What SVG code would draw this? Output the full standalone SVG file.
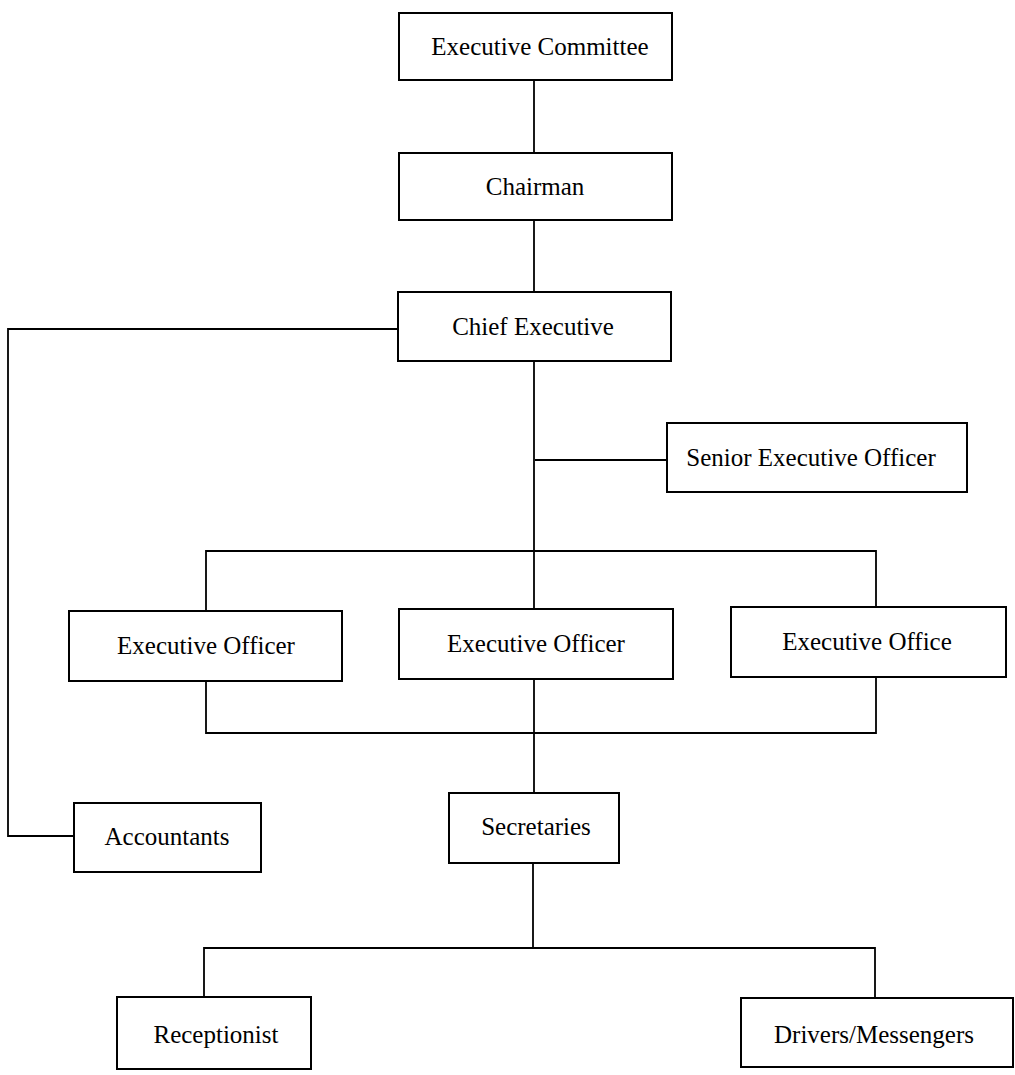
<svg xmlns="http://www.w3.org/2000/svg" width="1015" height="1075" viewBox="0 0 1015 1075">
<style>
rect.box{fill:#fff;stroke:#000;stroke-width:2}
text{font-family:"Liberation Serif","Times New Roman",serif;font-size:25px;fill:#000;text-anchor:middle}
#connectors path{fill:none;stroke:#000;stroke-width:1.8}
</style>
<rect width="1015" height="1075" fill="#fff"/>
<g id="connectors">
<path d="M534 80V153"/>
<path d="M534 220V292"/>
<path d="M534 361V609"/>
<path d="M535 460H667"/>
<path d="M206 611V551H876V607"/>
<path d="M206 681V733H876V677"/>
<path d="M534 679V793"/>
<path d="M398 329H8V836H74"/>
<path d="M533 863V948"/>
<path d="M204 997V948H875V998"/>
</g>
<g id="executive-committee"><rect class="box" x="399" y="13" width="273" height="67"/><text x="540" y="55">Executive Committee</text></g>
<g id="chairman"><rect class="box" x="399" y="153" width="273" height="67"/><text x="535" y="195">Chairman</text></g>
<g id="chief-executive"><rect class="box" x="398" y="292" width="273" height="69"/><text x="533" y="335">Chief Executive</text></g>
<g id="senior-executive-officer"><rect class="box" x="667" y="423" width="300" height="69"/><text x="811" y="466">Senior Executive Officer</text></g>
<g id="executive-officer-1"><rect class="box" x="69" y="611" width="273" height="70"/><text x="206" y="654">Executive Officer</text></g>
<g id="executive-officer-2"><rect class="box" x="399" y="609" width="274" height="70"/><text x="536" y="652">Executive Officer</text></g>
<g id="executive-office-3"><rect class="box" x="731" y="607" width="275" height="70"/><text x="867" y="650">Executive Office</text></g>
<g id="accountants"><rect class="box" x="74" y="803" width="187" height="69"/><text x="167" y="845">Accountants</text></g>
<g id="secretaries"><rect class="box" x="449" y="793" width="170" height="70"/><text x="536" y="835">Secretaries</text></g>
<g id="receptionist"><rect class="box" x="117" y="997" width="194" height="72"/><text x="216" y="1043">Receptionist</text></g>
<g id="drivers-messengers"><rect class="box" x="741" y="998" width="272" height="69"/><text x="874" y="1043">Drivers/Messengers</text></g>
</svg>
